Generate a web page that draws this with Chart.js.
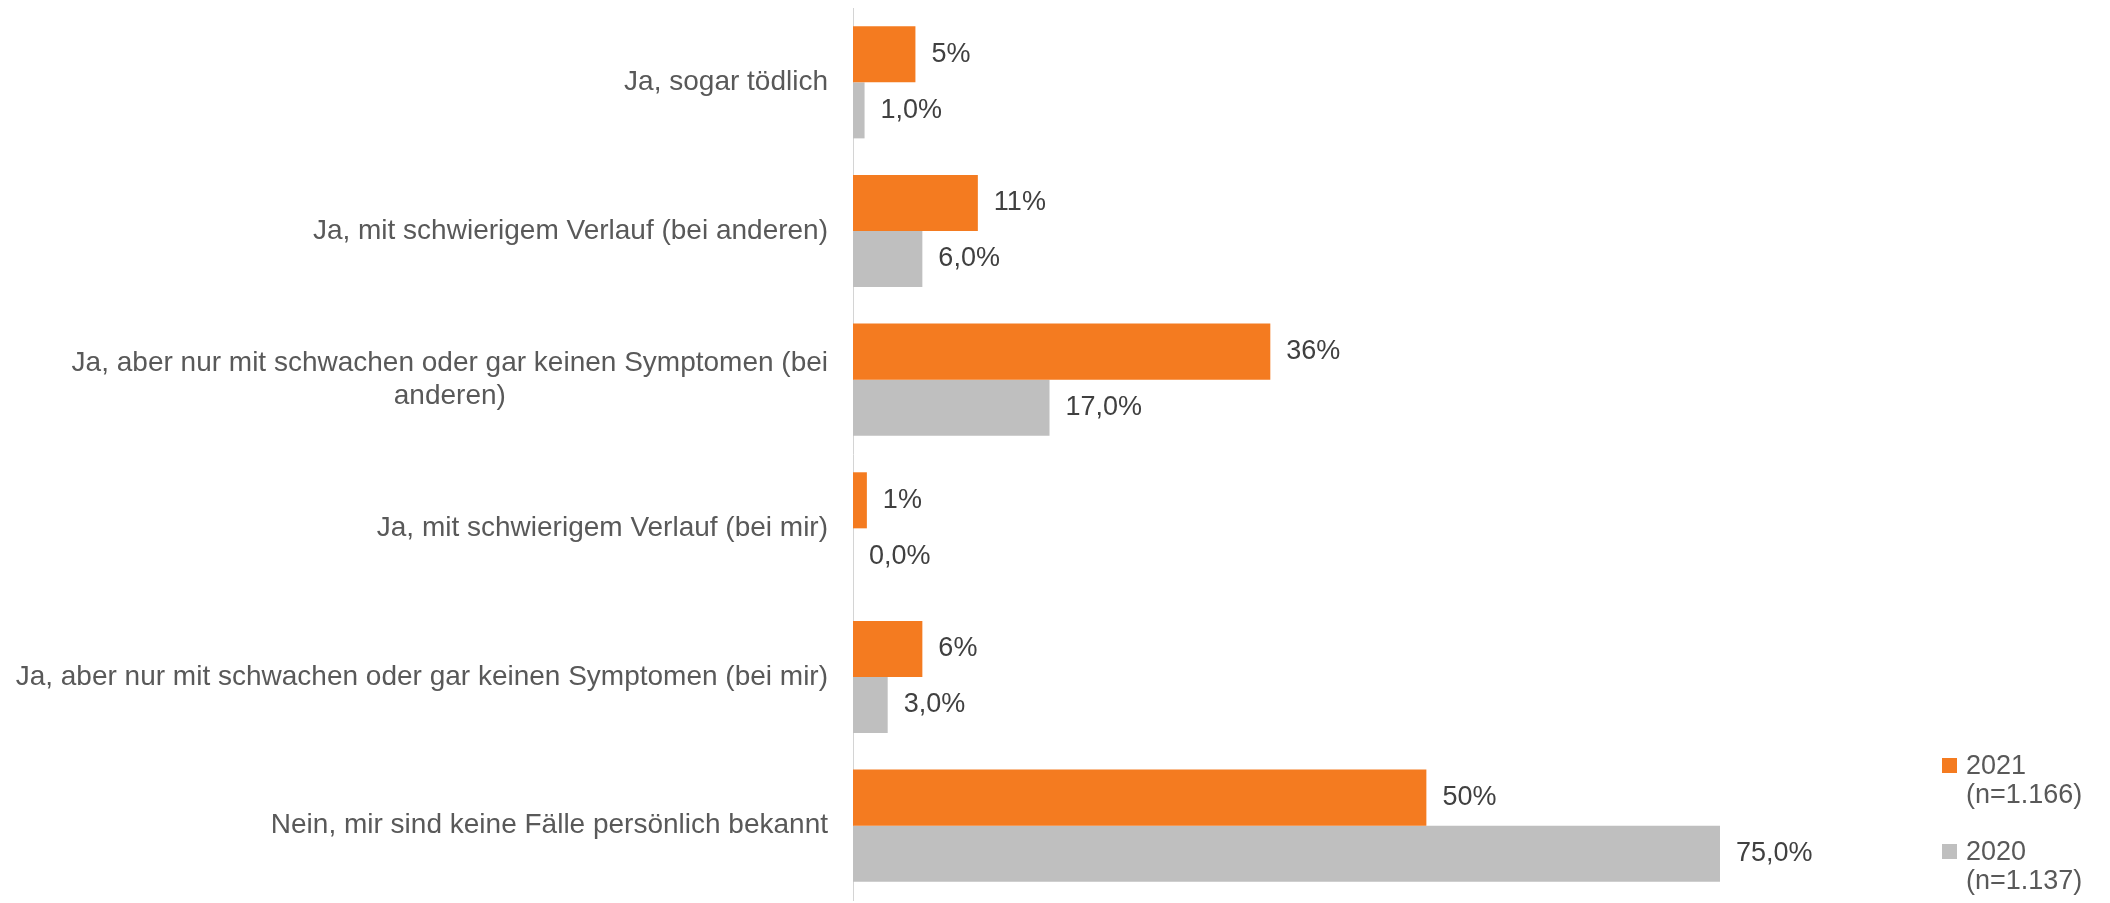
<!DOCTYPE html>
<html>
<head>
<meta charset="utf-8">
<script src="https://cdn.jsdelivr.net/npm/chart.js@4/dist/chart.umd.min.js"></script>
<style>
html,body{margin:0;padding:0;background:#fff;}
#wrap{width:2110px;height:903px;position:relative;}
</style>
</head>
<body>
<div id="wrap"><canvas id="grafico"></canvas></div>
<script>
// Datos
const categorias = [
"Ja, sogar tödlich",
"Ja, mit schwierigem Verlauf (bei anderen)",
["Ja, aber nur mit schwachen oder gar keinen Symptomen (bei", "anderen)"],
"Ja, mit schwierigem Verlauf (bei mir)",
"Ja, aber nur mit schwachen oder gar keinen Symptomen (bei mir)",
"Nein, mir sind keine Fälle persönlich bekannt"
];
const valores2021 = [5.4, 10.8, 36.1, 1.2, 6.0, 49.6];
const valores2020 = [1.0, 6.0, 17.0, 0.0, 3.0, 75.0];
const leyenda2021 = ["2021", "(n=1.166)"];
const leyenda2020 = ["2020", "(n=1.137)"];

const fuenteEje = "28px 'Liberation Sans', Arial, sans-serif";
const fuente = "27px 'Liberation Sans', Arial, sans-serif";
const naranja = "#F47B20";
const gris = "#BFBFBF";

// etiquetas del eje y (centradas si hay dos lineas)
const etiquetasY = {
id: "etiquetasY",
afterDraw(chart){
const ctx = chart.ctx;
const y = chart.scales.y;
ctx.save();
ctx.font = fuenteEje;
ctx.fillStyle = "#595959";
ctx.textBaseline = "middle";
ctx.textAlign = "center";
categorias.forEach((cat, i) => {
let lineas = Array.isArray(cat) ? cat : [cat];
let anchoMax = Math.max(...lineas.map(l => ctx.measureText(l).width));
let cx = 828 - anchoMax/2;
let yc = y.getPixelForTick(i);
let alto = 33;
lineas.forEach((l, j) => {
ctx.fillText(l, cx, yc + (j - (lineas.length-1)/2)*alto);
});
});
ctx.restore();
}
};

// valores al final de cada barra
const etiquetasValor = {
id: "etiquetasValor",
afterDatasetsDraw(chart){
const ctx = chart.ctx;
ctx.save();
ctx.font = fuente;
ctx.fillStyle = "#404040";
ctx.textBaseline = "middle";
ctx.textAlign = "left";
chart.data.datasets.forEach((ds, d) => {
chart.getDatasetMeta(d).data.forEach((bar, i) => {
let v = ds.data[i];
let txt = d === 0 ? Math.round(v) + "%" : v.toFixed(1).replace(".", ",") + "%";
ctx.fillText(txt, bar.x + 16, bar.y);
});
});
ctx.restore();
}
};

// leyenda abajo a la derecha
const leyenda = {
id: "leyenda",
afterDraw(chart){
const ctx = chart.ctx;
ctx.save();
ctx.font = fuente;
ctx.textBaseline = "alphabetic";
let items = [[naranja, leyenda2021, 774], [gris, leyenda2020, 860]];
items.forEach(it => {
ctx.fillStyle = it[0];
ctx.fillRect(1942, it[2]-16, 15, 15);
ctx.fillStyle = "#595959";
it[1].forEach((l, j) => ctx.fillText(l, 1966, it[2] + j*28.5));
});
ctx.restore();
}
};

new Chart(document.getElementById("grafico"), {
type: "bar",
data: {
labels: categorias,
datasets: [
{label: "2021 (n=1.166)", data: valores2021, backgroundColor: naranja},
{label: "2020 (n=1.137)", data: valores2020, backgroundColor: gris}
]
},
options: {
indexAxis: "y",
responsive: true,
maintainAspectRatio: false,
animation: false,
categoryPercentage: 0.754,
barPercentage: 1.0,
layout: {padding: {top: 8, bottom: 3, left: 0, right: 101}},
plugins: {legend: {display: false}, tooltip: {enabled: false}},
scales: {
x: {min: 0, max: 100, display: false},
y: {
grid: {display: false, drawTicks: false},
border: {display: true, color: "#d4d4d4", width: 1},
ticks: {display: false},
afterFit(scale){ scale.width = 853; }
}
}
},
plugins: [etiquetasY, etiquetasValor, leyenda]
});
</script>
</body>
</html>
